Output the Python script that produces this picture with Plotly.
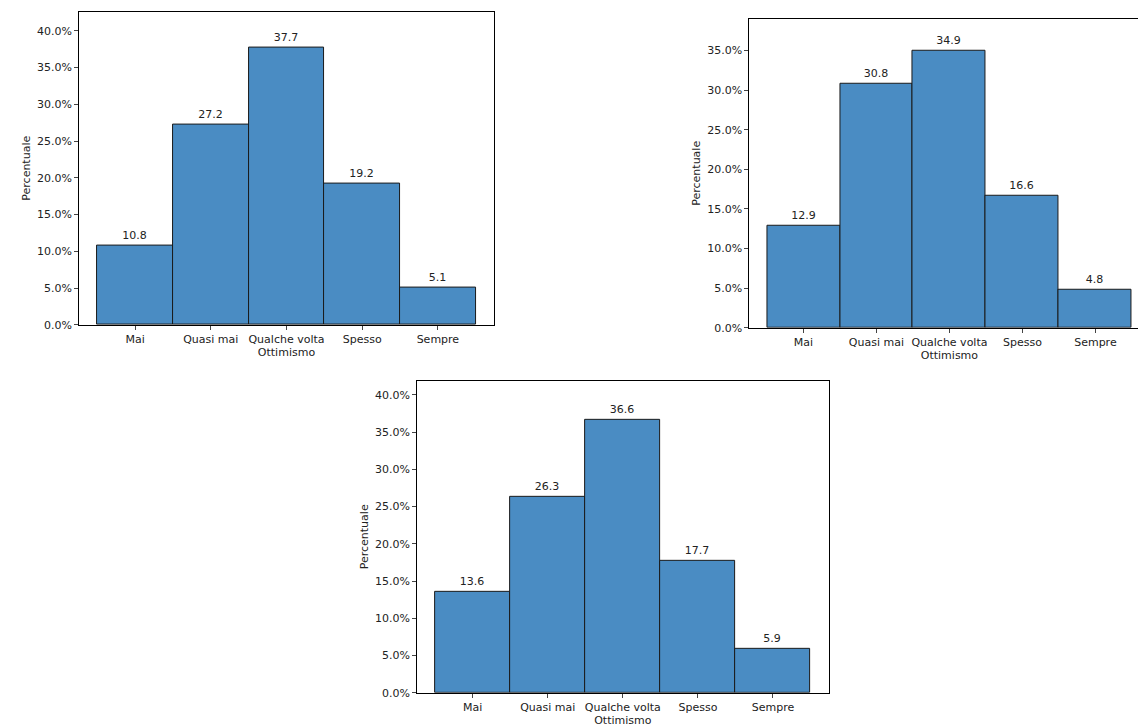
import plotly.graph_objects as go

categories = ["Mai", "Quasi mai", "Qualche volta", "Spesso", "Sempre"]
vals1 = [10.8, 27.2, 37.7, 19.2, 5.1]
vals2 = [12.9, 30.8, 34.9, 16.6, 4.8]
vals3 = [13.6, 26.3, 36.6, 17.7, 5.9]

panels = [
    (vals1, [0.062, 0.424], [0.558, 0.995], 42.6),
    (vals2, [0.647, 0.996], [0.554, 0.985], 39.0),
    (vals3, [0.357, 0.716], [0.045, 0.480], 41.9),
]

fig = go.Figure()
font = dict(family="DejaVu Sans", size=11, color="#222")
for i, (vals, xd, yd, ymax) in enumerate(panels, start=1):
    s = "" if i == 1 else str(i)
    fig.add_trace(go.Bar(
        x=list(range(5)), y=vals, xaxis="x" + s, yaxis="y" + s,
        marker=dict(color="#4a8cc3", line=dict(color="#1a1a1a", width=1)),
        text=[f"{v:.1f}" for v in vals], textposition="outside",
        textfont=font, cliponaxis=False, width=1.0, showlegend=False))
    fig.layout["xaxis" + s] = dict(
        domain=xd, anchor="y" + s, range=[-0.74, 4.74],
        tickvals=list(range(5)), ticktext=categories, tickfont=font,
        ticks="outside", ticklen=4, showgrid=False, zeroline=False,
        showline=True, linecolor="black", mirror=True,
        title=dict(text="Ottimismo", font=font, standoff=2))
    fig.layout["yaxis" + s] = dict(
        domain=yd, anchor="x" + s, range=[0, ymax],
        tickvals=[0, 5, 10, 15, 20, 25, 30, 35, 40],
        ticktext=[f"{t:.1f}%" for t in [0, 5, 10, 15, 20, 25, 30, 35, 40]],
        tickfont=font, ticks="outside", ticklen=4, showgrid=False,
        zeroline=False, showline=True, linecolor="black", mirror=True,
        title=dict(text="Percentuale", font=font, standoff=4))

fig.update_layout(width=1146, height=724, bargap=0,
                  margin=dict(l=0, r=0, t=0, b=0),
                  plot_bgcolor="white", paper_bgcolor="white")
fig.write_html("out.html")
